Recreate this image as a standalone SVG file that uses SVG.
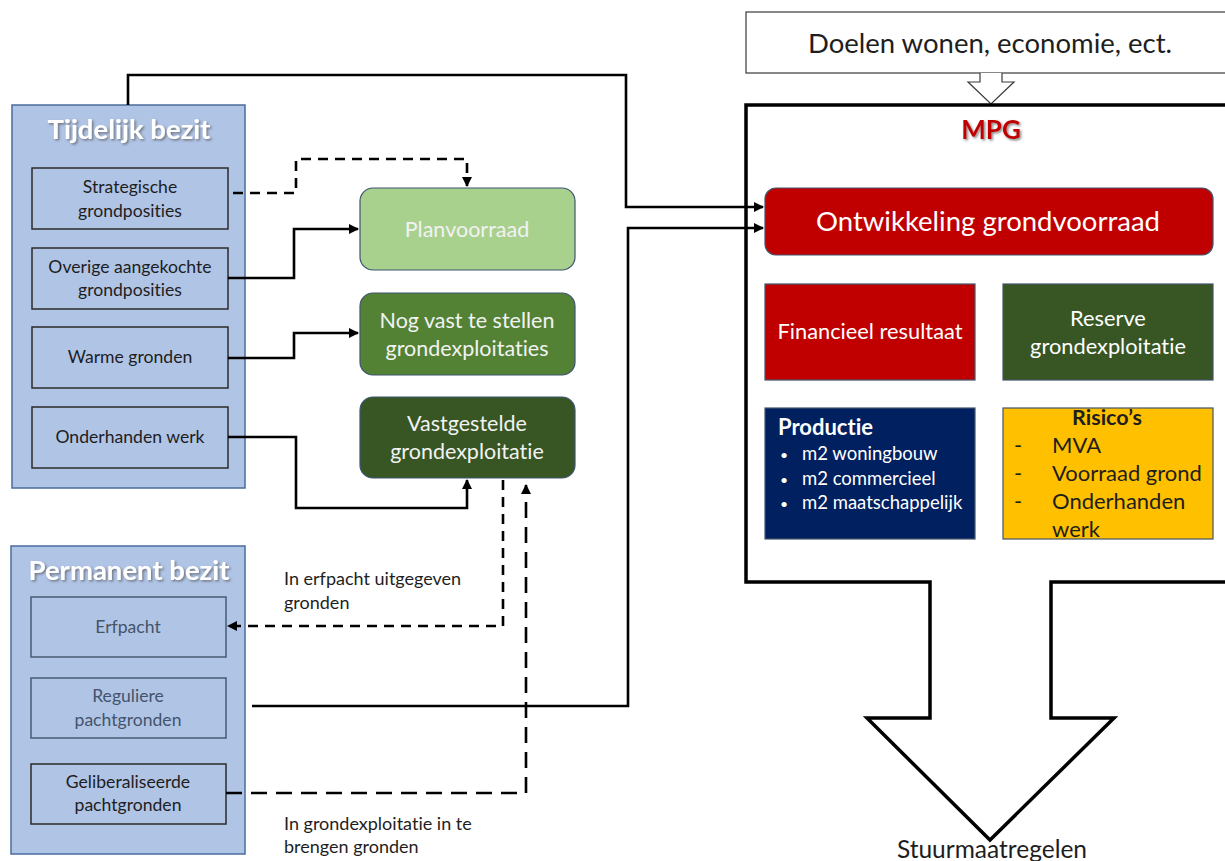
<svg xmlns="http://www.w3.org/2000/svg" width="1225" height="861" viewBox="0 0 1225 861">
  <style>
    text { font-family: Lato, "Open Sans", "Liberation Sans", sans-serif; font-variant-ligatures: none; }
    .group { fill: #B0C4E6; stroke: #4A6C9B; stroke-width: 1.5; }
    .item { fill: none; stroke: #2B2B2B; stroke-width: 1.5; }
    .item-soft { fill: none; stroke: #4A5A75; stroke-width: 1.5; }
    .item-txt { font-size: 17.6px; fill: #1E1E1E; text-anchor: middle; }
    .item-soft-txt { font-size: 17.6px; fill: #44546A; text-anchor: middle; }
    .title { font-size: 27.5px; font-weight: bold; fill: #FFFFFF; text-anchor: middle; }
    .stage { stroke: #3F5470; stroke-width: 1.2; }
    .stage-txt { font-size: 21.5px; fill: #F2F2F2; text-anchor: middle; }
    .mpg-box { stroke: #44546A; stroke-width: 1.2; }
    .box-txt { font-size: 21.8px; fill: #FFFFFF; text-anchor: middle; }
    .note { font-size: 18px; fill: #1E1E1E; }
    .conn { fill: none; stroke: #000; stroke-width: 2.6; }
    .dash { stroke-dasharray: 10 7; }
    .dash-long { stroke-dasharray: 16 9; }
    .outline { fill: #FFFFFF; stroke: #000; stroke-width: 3.5; stroke-linejoin: miter; }
  </style>
  <defs>
    <marker id="arrow" viewBox="0 0 10 10" refX="9" refY="5" markerWidth="4" markerHeight="4" orient="auto" markerUnits="strokeWidth">
      <path d="M0,0 L10,5 L0,10 z" fill="#000"/>
    </marker>
    <filter id="shadow" x="-10%" y="-30%" width="120%" height="160%">
      <feDropShadow dx="1.5" dy="1.5" stdDeviation="1.2" flood-color="#555" flood-opacity="0.7"/>
    </filter>
  </defs>

  <rect width="1225" height="861" fill="#FFFFFF"/>

  <!-- Goals box with small hollow arrow -->
  <g id="doelen">
    <rect x="746" y="12" width="490" height="61" fill="#FFFFFF" stroke="#3A3A3A" stroke-width="1.2"/>
    <text x="990" y="53" font-size="27.5px" fill="#1E1E1E" text-anchor="middle">Doelen wonen, economie, ect.</text>
    <path d="M980,73 L980,82 L968,82 L991,104 L1014,82 L1002,82 L1002,73" fill="#FFFFFF" stroke="#3A3A3A" stroke-width="1.2"/>
  </g>

  <!-- MPG frame with the big outgoing arrow -->
  <g id="mpg">
    <path class="outline" d="M1235,105 L746,105 L746,582 L930,582 L930,718 L867,718 L990,840 L1114,718 L1051,718 L1051,582 L1235,582"/>
    <text x="991" y="139" font-size="26px" font-weight="bold" fill="#C00000" text-anchor="middle" filter="url(#shadow)">MPG</text>
  </g>

  <g id="ontwikkeling">
    <rect x="765" y="188" width="448" height="67" rx="11" fill="#C00000" class="mpg-box"/>
    <text x="988" y="231" font-size="27.5px" fill="#FFFFFF" text-anchor="middle">Ontwikkeling grondvoorraad</text>
  </g>

  <g id="financieel">
    <rect x="765" y="284" width="210" height="96" fill="#C00000" class="mpg-box"/>
    <text class="box-txt" x="870" y="339">Financieel resultaat</text>
  </g>

  <g id="reserve">
    <rect x="1003" y="284" width="210" height="96" fill="#375623" class="mpg-box"/>
    <text class="box-txt" x="1108" y="326">Reserve</text>
    <text class="box-txt" x="1108" y="354">grondexploitatie</text>
  </g>

  <g id="productie">
    <rect x="765" y="408" width="210" height="131" fill="#002060" class="mpg-box"/>
    <text x="778" y="435" font-size="22px" font-weight="bold" fill="#FFFFFF">Productie</text>
    <g font-size="18.5px" fill="#FFFFFF">
      <text x="780" y="460" font-size="14px">•</text><text x="802" y="460">m2 woningbouw</text>
      <text x="780" y="485" font-size="14px">•</text><text x="802" y="485">m2 commercieel</text>
      <text x="780" y="509" font-size="14px">•</text><text x="802" y="509">m2 maatschappelijk</text>
    </g>
  </g>

  <g id="risicos">
    <rect x="1003" y="408" width="210" height="131" fill="#FFC000" class="mpg-box"/>
    <text x="1107" y="425" font-size="21.5px" font-weight="bold" fill="#1E1E1E" text-anchor="middle">Risico’s</text>
    <g font-size="22px" fill="#1E1E1E">
      <text x="1014" y="453">-</text><text x="1052" y="453">MVA</text>
      <text x="1014" y="481">-</text><text x="1052" y="481">Voorraad grond</text>
      <text x="1014" y="509">-</text><text x="1052" y="509">Onderhanden</text>
      <text x="1052" y="537">werk</text>
    </g>
  </g>

  <!-- Temporary holdings -->
  <g id="tijdelijk-bezit">
    <rect class="group" x="12" y="105" width="233" height="383"/>
    <text class="title" x="129" y="139" filter="url(#shadow)">Tijdelijk bezit</text>
  </g>
  <g id="strategische">
    <rect class="item" x="32" y="168" width="196" height="61"/>
    <text class="item-txt" x="130" y="193">Strategische</text>
    <text class="item-txt" x="130" y="217">grondposities</text>
  </g>
  <g id="overige">
    <rect class="item" x="32" y="248" width="196" height="61"/>
    <text class="item-txt" x="130" y="273">Overige aangekochte</text>
    <text class="item-txt" x="130" y="296">grondposities</text>
  </g>
  <g id="warme">
    <rect class="item" x="32" y="327" width="196" height="61"/>
    <text class="item-txt" x="130" y="363">Warme gronden</text>
  </g>
  <g id="onderhanden">
    <rect class="item" x="32" y="407" width="196" height="61"/>
    <text class="item-txt" x="130" y="443">Onderhanden werk</text>
  </g>

  <!-- Permanent holdings -->
  <g id="permanent-bezit">
    <rect class="group" x="11" y="546" width="234" height="308"/>
    <text class="title" x="129" y="580" filter="url(#shadow)">Permanent bezit</text>
  </g>
  <g id="erfpacht">
    <rect class="item-soft" x="31" y="597" width="195" height="60"/>
    <text class="item-soft-txt" x="128" y="633">Erfpacht</text>
  </g>
  <g id="reguliere">
    <rect class="item-soft" x="31" y="678" width="195" height="60"/>
    <text class="item-soft-txt" x="128" y="702">Reguliere</text>
    <text class="item-soft-txt" x="128" y="726">pachtgronden</text>
  </g>
  <g id="geliberaliseerde">
    <rect class="item" x="31" y="764" width="195" height="60"/>
    <text class="item-txt" x="128" y="788">Geliberaliseerde</text>
    <text class="item-txt" x="128" y="811">pachtgronden</text>
  </g>

  <!-- Land development stages -->
  <g id="planvoorraad">
    <rect class="stage" x="360" y="188" width="215" height="82" rx="13" fill="#A9D18E"/>
    <text class="stage-txt" x="467" y="237">Planvoorraad</text>
  </g>
  <g id="nog-vast-te-stellen">
    <rect class="stage" x="360" y="293" width="215" height="82" rx="13" fill="#548235"/>
    <text class="stage-txt" x="467" y="328">Nog vast te stellen</text>
    <text class="stage-txt" x="467" y="356">grondexploitaties</text>
  </g>
  <g id="vastgestelde">
    <rect class="stage" x="360" y="397" width="215" height="81" rx="13" fill="#375623"/>
    <text class="stage-txt" x="467" y="431">Vastgestelde</text>
    <text class="stage-txt" x="467" y="459">grondexploitatie</text>
  </g>

  <!-- Flow labels -->
  <g id="labels">
    <text class="note" x="284" y="585">In erfpacht uitgegeven</text>
    <text class="note" x="284" y="609">gronden</text>
    <text class="note" x="284" y="830">In grondexploitatie in te</text>
    <text class="note" x="284" y="853">brengen gronden</text>
  </g>

  <text x="992" y="858" font-size="24.5px" fill="#1E1E1E" text-anchor="middle">Stuurmaatregelen</text>

  <!-- Connectors -->
  <g id="connectors">
    <path class="conn dash" d="M233,193 L296,193 L296,159 L467,159 L467,186" marker-end="url(#arrow)"/>
    <path class="conn" d="M228,278 L294,278 L294,229 L358,229" marker-end="url(#arrow)"/>
    <path class="conn" d="M228,358 L294,358 L294,333 L358,333" marker-end="url(#arrow)"/>
    <path class="conn" d="M228,437 L296,437 L296,508 L467,508 L467,480" marker-end="url(#arrow)"/>
    <path class="conn dash" d="M503,480 L503,626 L228,626" marker-end="url(#arrow)"/>
    <path class="conn dash-long" d="M226,793 L526,793 L526,485" marker-end="url(#arrow)"/>
    <path class="conn" d="M128,105 L128,75 L626,75 L626,207 L763,207" marker-end="url(#arrow)"/>
    <path class="conn" d="M252,706 L628,706 L628,228 L763,228" marker-end="url(#arrow)"/>
  </g>
</svg>
